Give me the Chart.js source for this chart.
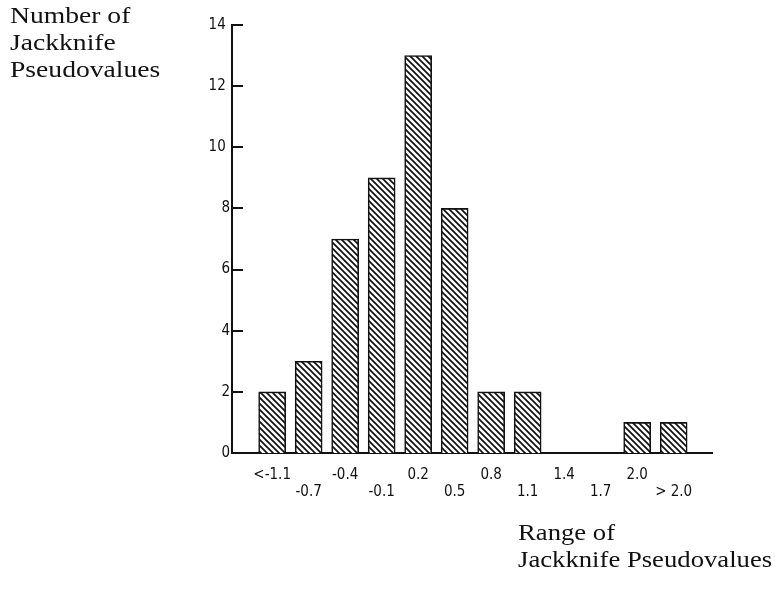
<!DOCTYPE html>
<html>
<head>
<meta charset="utf-8">
<script src="https://cdn.jsdelivr.net/npm/chart.js@4.4.1/dist/chart.umd.min.js"></script>
<style>
    html, body { margin: 0; padding: 0; background: #fff; }
    #wrap { position: relative; width: 775px; height: 595px; }
    canvas { position: absolute; left: 0; top: 0; }
    .title {
        position: absolute;
        font-family: 'Liberation Serif', 'DejaVu Serif', serif;
        font-size: 23px;
        line-height: 27px;
        color: #111;
        transform-origin: 0 0;
        white-space: nowrap;
    }
</style>
</head>
<body>
<div id="wrap">
    <canvas id="chart" width="775" height="595"></canvas>
    <div class="title" style="left:10px; top:2px; transform:scaleX(1.2);">Number of<br>Jackknife<br>Pseudovalues</div>
    <div class="title" style="left:518px; top:519px; transform:scaleX(1.16);">Range of<br>Jackknife Pseudovalues</div>
</div>
<script>
(function () {
    'use strict';

    // bins of the pseudovalues and their counts
    const binLabels = ['<-1.1', '-0.7', '-0.4', '-0.1', '0.2', '0.5', '0.8', '1.1', '1.4', '1.7', '2.0', '> 2.0'];
    const counts = [2, 3, 7, 9, 13, 8, 2, 2, 0, 0, 1, 1];
    const yTicks = [0, 2, 4, 6, 8, 10, 12, 14];

    const tickFont = "'DejaVu Sans Condensed', 'DejaVu Sans', sans-serif";

    // hatch pattern (lines going down to the right)
    function makeHatch() {
        const c = document.createElement('canvas');
        c.width = 6;
        c.height = 6;
        const g = c.getContext('2d');
        g.fillStyle = '#fff';
        g.fillRect(0, 0, 6, 6);
        g.strokeStyle = '#111';
        g.lineWidth = 1.7;
        g.beginPath();
        g.moveTo(-1, -1); g.lineTo(7, 7);
        g.moveTo(-4, 2); g.lineTo(4, 10);
        g.moveTo(2, -4); g.lineTo(10, 4);
        g.stroke();
        return g.createPattern(c, 'repeat');
    }

    const ctx = document.getElementById('chart').getContext('2d');

    // y tick marks drawn inside the plot, as in the original
    const innerTicks = {
        id: 'innerTicks',
        afterDraw(chart) {
            const y = chart.scales.y;
            const left = chart.chartArea.left;
            const c = chart.ctx;
            c.save();
            c.strokeStyle = '#111';
            c.lineWidth = 2;
            y.ticks.forEach(t => {
                const py = Math.round(y.getPixelForValue(t.value));
                c.beginPath();
                c.moveTo(left, py);
                c.lineTo(left + 11, py);
                c.stroke();
            });
            c.restore();
        }
    };

    new Chart(ctx, {
        type: 'bar',
        data: {
            datasets: [{
                data: counts.map((v, i) => ({ x: i, y: v })),
                backgroundColor: makeHatch(),
                borderColor: '#111',
                borderWidth: 1.6,
                borderSkipped: 'bottom',
                barThickness: 27
            }]
        },
        options: {
            responsive: false,
            animation: false,
            layout: { padding: { left: 180, right: 63, top: 25, bottom: 92 } },
            plugins: {
                legend: { display: false },
                tooltip: { enabled: false }
            },
            scales: {
                x: {
                    type: 'linear',
                    offset: false,
                    min: -1.1,
                    max: 12.05,
                    grid: { display: false, drawTicks: false },
                    border: { display: true, color: '#111', width: 2 },
                    afterBuildTicks: s => { s.ticks = binLabels.map((_, i) => ({ value: i })); },
                    afterFit: s => { s.height = 50; },
                    ticks: {
                        autoSkip: false,
                        maxRotation: 0,
                        padding: 13,
                        color: '#111',
                        font: { family: tickFont, size: 15, lineHeight: 1.15 },
                        callback: v => (v % 2 === 0 ? [binLabels[v], ''] : ['', binLabels[v]])
                    }
                },
                y: {
                    min: 0,
                    max: 14,
                    grid: { display: false, drawTicks: false },
                    border: { display: true, color: '#111', width: 2 },
                    afterBuildTicks: s => { s.ticks = yTicks.map(v => ({ value: v })); },
                    afterFit: s => { s.width = 52; },
                    ticks: {
                        padding: 2,
                        color: '#111',
                        font: { family: tickFont, size: 15 },
                        callback: v => (v >= 10 ? v + ' ' : String(v))
                    }
                }
            }
        },
        plugins: [innerTicks]
    });
})();
</script>
</body>
</html>
